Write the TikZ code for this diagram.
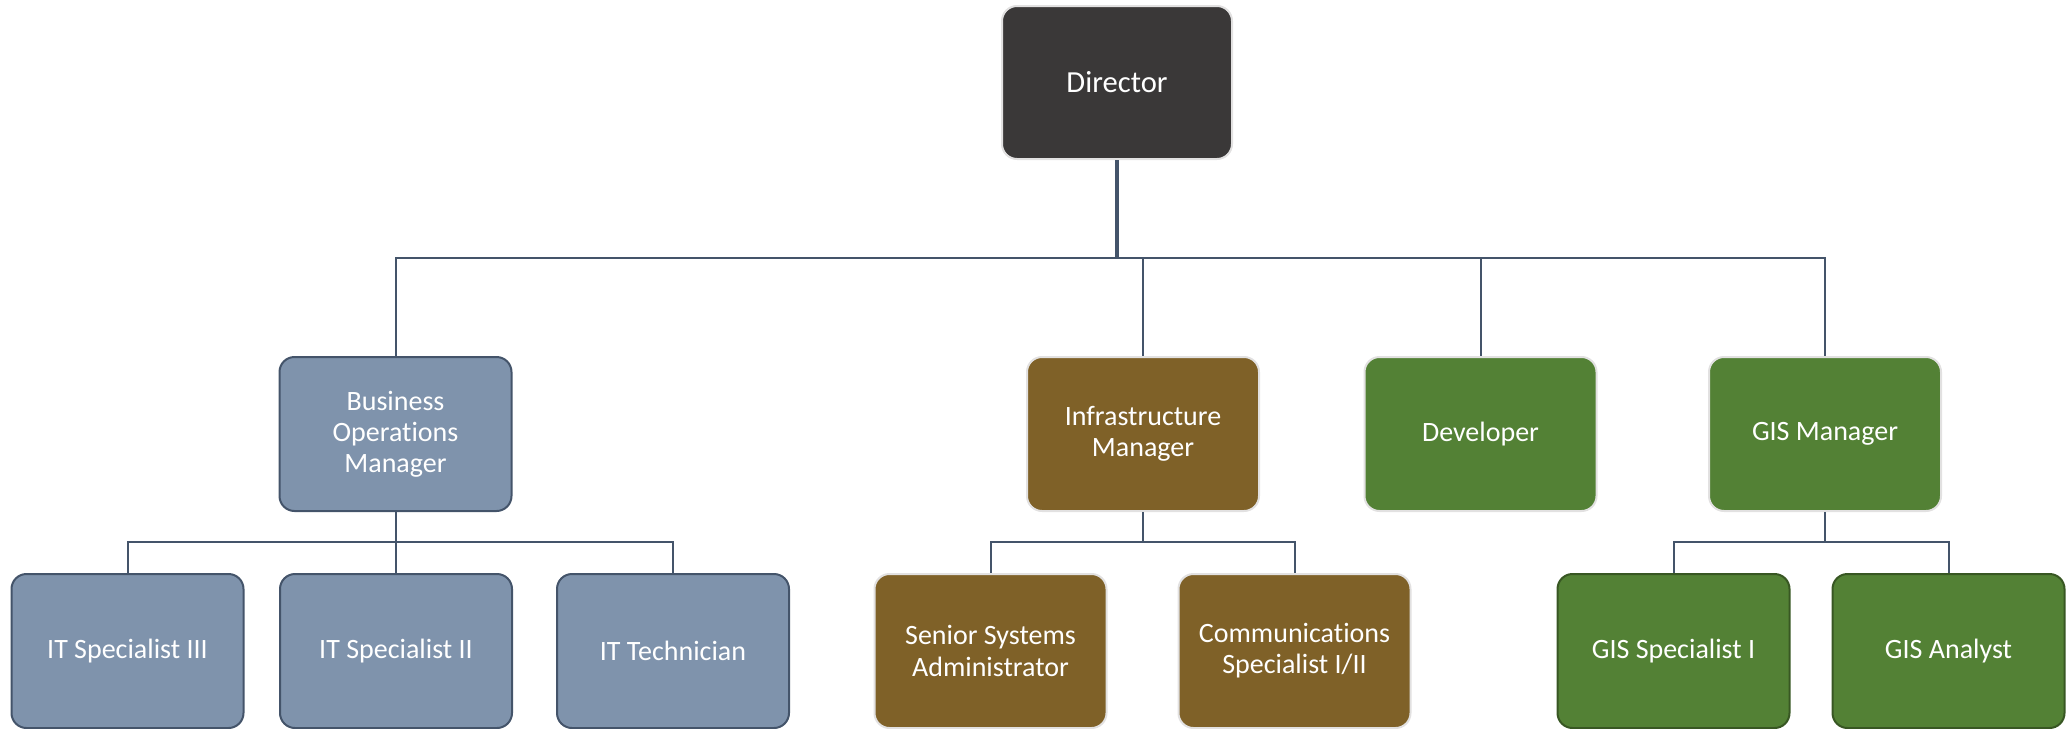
\documentclass[tikz,border=0pt]{standalone}
\usepackage{fontspec}
\setmainfont{Carlito}[Ligatures={NoCommon}]
\definecolor{dirfill}{HTML}{3A3838}
\definecolor{lightedge}{HTML}{E2E1E1}
\definecolor{bluefill}{HTML}{7F93AC}
\definecolor{blueedge}{HTML}{44546A}
\definecolor{brownfill}{HTML}{7F6128}
\definecolor{greenfill}{HTML}{538135}
\definecolor{greenedge}{HTML}{385723}
\definecolor{connc}{HTML}{44546A}
\begin{document}
\begin{tikzpicture}[x=0.5pt,y=-0.5pt,
  box/.style={rectangle, rounded corners=7.5pt, minimum width=116pt, minimum height=77pt,
    inner sep=0pt, align=center, text=white, line width=1pt,
    font=\fontsize{14}{15.6}\selectfont},
  dirbox/.style={box, fill=dirfill, draw=lightedge, minimum width=115pt, minimum height=76.5pt,
    font=\fontsize{15.3}{17}\selectfont},
  bluebox/.style={box, fill=bluefill, draw=blueedge},
  brownbox/.style={box, fill=brownfill, draw=lightedge},
  greenbox/.style={box, fill=greenfill, draw=lightedge},
  greendark/.style={box, fill=greenfill, draw=greenedge},
  conn/.style={draw=connc, line width=1pt},
  trunk/.style={draw=connc, line width=1.75pt}
]
\useasboundingbox (0,0) rectangle (2066,728);
\begin{scope}
\clip (0,0) rectangle (2066,728);
% level 1
\node[dirbox] (dir) at (1117,82.5) {Director};
% level 2
\node[bluebox]  (bom)   at (395.5,434) {Business\\Operations\\Manager};
\node[brownbox] (infra) at (1143,434) {Infrastructure\\Manager};
\node[greenbox] (dev)   at (1480.5,434) {Developer};
\node[greenbox] (gism)  at (1825,434) {GIS Manager};
% level 3
\node[bluebox]  (its3) at (127.5,651) {IT Specialist III};
\node[bluebox]  (its2) at (396,651) {IT Specialist II};
\node[bluebox]  (itt)  at (673,651) {IT Technician};
\node[brownbox] (ssa)  at (990.5,651) {Senior Systems\\Administrator};
\node[brownbox] (comm) at (1294.5,651) {Communications\\Specialist I/II};
\node[greendark] (giss) at (1673.5,651) {GIS Specialist I};
\node[greendark] (gisa) at (1948.5,651) {GIS Analyst};
% junctions
\coordinate (j1) at (1117,258);
\coordinate (j2) at (395.5,542);
\coordinate (j3) at (1143,542);
\coordinate (j4) at (1825,542);
% connectors
\draw[trunk] (dir.south) -- (j1);
\draw[conn] (j1) -| (bom.north);
\draw[conn] (j1) -| (infra.north);
\draw[conn] (j1) -| (dev.north);
\draw[conn] (j1) -| (gism.north);
\draw[conn] (bom.south) -- (j2);
\draw[conn] (j2) -| (its3.north);
\draw[conn] (j2) -| (its2.north);
\draw[conn] (j2) -| (itt.north);
\draw[conn] (infra.south) -- (j3);
\draw[conn] (j3) -| (ssa.north);
\draw[conn] (j3) -| (comm.north);
\draw[conn] (gism.south) -- (j4);
\draw[conn] (j4) -| (giss.north);
\draw[conn] (j4) -| (gisa.north);
\end{scope}
\end{tikzpicture}
\end{document}
